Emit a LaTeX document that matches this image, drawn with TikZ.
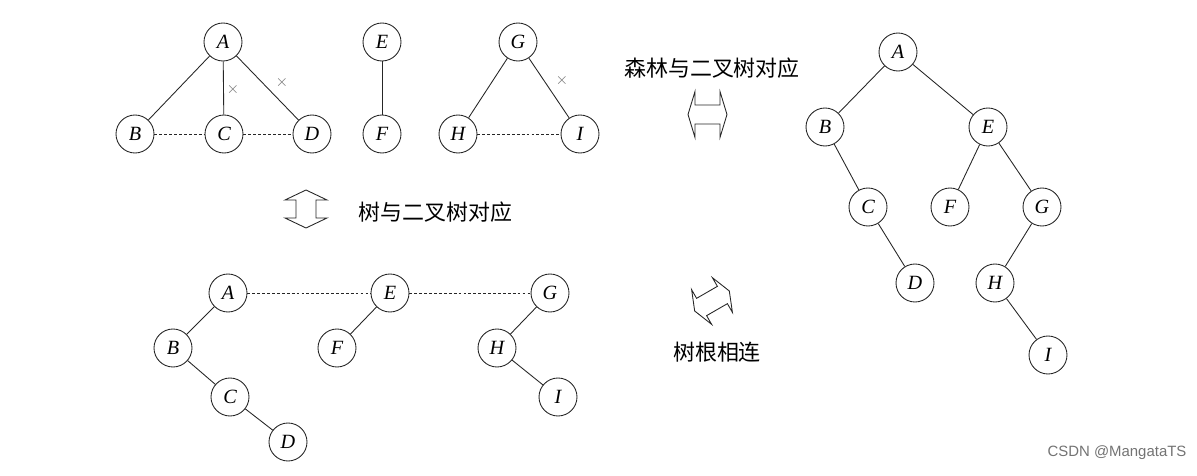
\documentclass[tikz,border=0pt]{standalone}
\usepackage{fontspec}
\usepackage{tikz}
\newfontfamily\cjk{Noto Sans CJK SC}
\newfontfamily\lserif{Liberation Serif}
\newfontfamily\lsans{Liberation Sans}
\usetikzlibrary{calc}

\tikzset{
  vtx/.style={circle,draw=black!85,line width=0.5pt,fill=white,minimum size=0.76cm,inner sep=0pt,
    font=\lserif\itshape\fontsize{11.5}{13}\selectfont},
  tln/.style={black!85,line width=0.5pt},
  dln/.style={black!85,line width=0.5pt,dash pattern=on 1.6pt off 1.2pt},
  xmk/.style={text=black!55,inner sep=0pt,font=\small},
  cnote/.style={inner sep=0pt,font=\cjk\fontsize{12.5}{14}\selectfont},
  dbl/.style={black!85,line width=0.5pt,line join=miter},
}

\begin{document}
\begin{tikzpicture}[x=0.02cm,y=-0.02cm]
  \useasboundingbox (0,0) rectangle (1197,476);

  % forest
  \node[vtx] (fa) at (223,42) {A};
  \node[vtx] (fb) at (135,134) {B};
  \node[vtx] (fc) at (224,134) {C};
  \node[vtx] (fd) at (312,134) {D};
  \node[vtx] (fe) at (382,42) {E};
  \node[vtx] (ff) at (382,134) {F};
  \node[vtx] (fg) at (518,42) {G};
  \node[vtx] (fh) at (458,134) {H};
  \node[vtx] (fi) at (580,134) {I};
  \draw[tln] (fa)--(fb);
  \draw[tln] (fa)--(fc);
  \draw[tln] (fa)--(fd);
  \draw[dln] (fb)--(fc);
  \draw[dln] (fc)--(fd);
  \draw[tln] (fe)--(ff);
  \draw[tln] (fg)--(fh);
  \draw[tln] (fg)--(fi);
  \draw[dln] (fh)--(fi);
  \node[xmk] (x1) at (233,90) {$\times$};
  \node[xmk] (x2) at (282,83) {$\times$};
  \node[xmk] (x3) at (562,81) {$\times$};

  % trees as binary trees
  \node[vtx] (ba) at (228,293) {A};
  \node[vtx] (bb) at (173,348) {B};
  \node[vtx] (bc) at (230,397) {C};
  \node[vtx] (bd) at (288,442) {D};
  \node[vtx] (be) at (390,293) {E};
  \node[vtx] (bf) at (337,348) {F};
  \node[vtx] (bg) at (550,293) {G};
  \node[vtx] (bh) at (497,348) {H};
  \node[vtx] (bi) at (558,397) {I};
  \draw[tln] (ba)--(bb);
  \draw[tln] (bb)--(bc);
  \draw[tln] (bc)--(bd);
  \draw[tln] (be)--(bf);
  \draw[tln] (bg)--(bh);
  \draw[tln] (bh)--(bi);
  \draw[dln] (ba)--(be);
  \draw[dln] (be)--(bg);

  % binary tree
  \node[vtx] (ra) at (898,52) {A};
  \node[vtx] (rb) at (825,127) {B};
  \node[vtx] (re) at (988,127) {E};
  \node[vtx] (rc) at (868,207) {C};
  \node[vtx] (rf) at (950,207) {F};
  \node[vtx] (rg) at (1042,207) {G};
  \node[vtx] (rd) at (915,283) {D};
  \node[vtx] (rh) at (995,283) {H};
  \node[vtx] (ri) at (1048,355) {I};
  \draw[tln] (ra)--(rb);
  \draw[tln] (ra)--(re);
  \draw[tln] (rb)--(rc);
  \draw[tln] (rc)--(rd);
  \draw[tln] (re)--(rf);
  \draw[tln] (re)--(rg);
  \draw[tln] (rg)--(rh);
  \draw[tln] (rh)--(ri);

  % arrows and notes
  \draw[dbl,shift={(306,209)},rotate=90] (-19,0)--(-9,-21)--(-9,-10)--(9,-10)--(9,-21)--(19,0)
    --(9,21)--(9,10)--(-9,10)--(-9,21)--cycle;
  \node[cnote,anchor=west] (n1) at (358,212) {树与二叉树对应};
  \draw[dbl,shift={(707.5,114.5)}] (-19.5,0)--(-12.5,-23)--(-12.5,-9.5)--(12.5,-9.5)--(12.5,-23)--(19.5,0)
    --(12.5,23)--(12.5,9.5)--(-12.5,9.5)--(-12.5,23)--cycle;
  \node[cnote] (n2) at (712,68) {森林与二叉树对应};
  \draw[dbl,shift={(712,301)},rotate=30] (-20,0)--(-12,-20)--(-12,-10)--(12,-10)--(12,-20)--(20,0)
    --(12,20)--(12,10)--(-12,10)--(-12,20)--cycle;
  \node[cnote] (n3) at (717,352) {树根相连};

  \node[inner sep=0pt,text=black!55,font=\lsans\fontsize{8.5}{10}\selectfont] (wm) at (1117,453) {CSDN @MangataTS};
\end{tikzpicture}
\end{document}
